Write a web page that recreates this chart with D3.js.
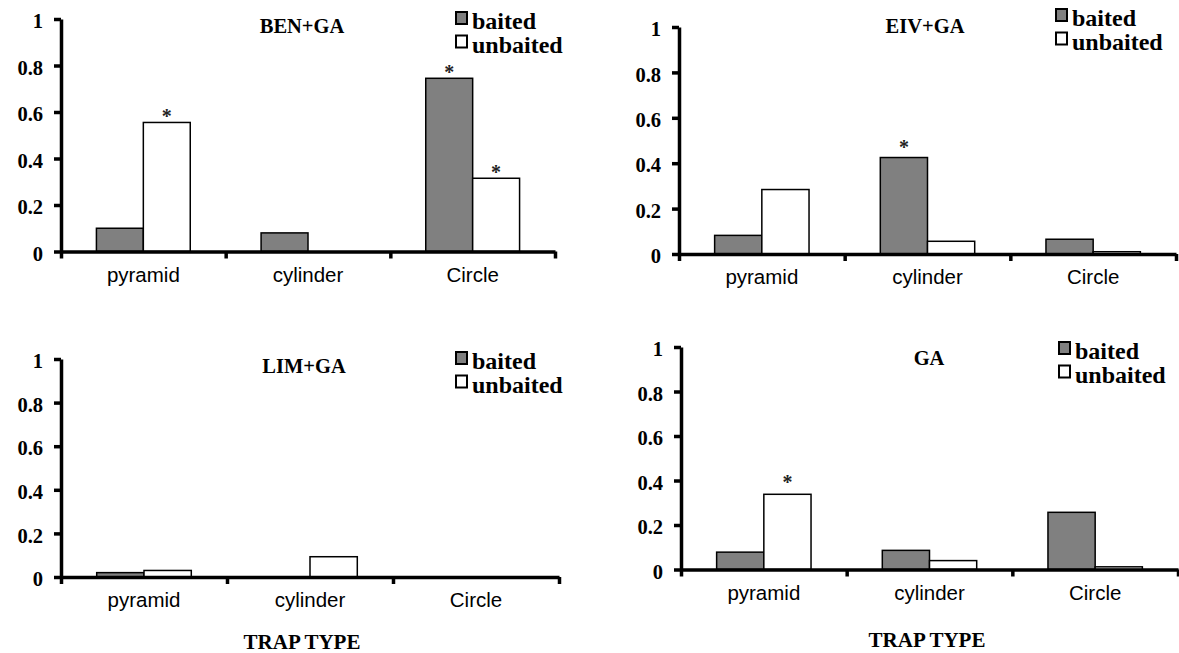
<!DOCTYPE html>
<html>
<head>
<meta charset="utf-8">
<script src="https://cdn.jsdelivr.net/npm/d3@7"></script>
<style>
  html, body { margin: 0; padding: 0; background: #fff; }
  svg { display: block; }
</style>
</head>
<body>
<svg id="chart" width="1179" height="653"></svg>
<script>
// ---------- data ----------
const categories = ["pyramid", "cylinder", "Circle"];
const seriesNames = ["baited", "unbaited"];
const yTicks = [0, 0.2, 0.4, 0.6, 0.8, 1];
const yTickLabels = ["0", "0.2", "0.4", "0.6", "0.8", "1"];
const xAxisTitle = "TRAP TYPE";

const benTitle = "BEN+GA";
const benBaited = [0.10, 0.08, 0.745];
const benUnbaited = [0.555, 0, 0.315];
const benStars = [[0, 1], [2, 0], [2, 1]]; // [category index, series index]

const eivTitle = "EIV+GA";
const eivBaited = [0.082, 0.425, 0.065];
const eivUnbaited = [0.284, 0.056, 0.01];
const eivStars = [[1, 0]];

const limTitle = "LIM+GA";
const limBaited = [0.02, 0, 0];
const limUnbaited = [0.03, 0.093, 0];
const limStars = [];

const gaTitle = "GA";
const gaBaited = [0.078, 0.086, 0.257];
const gaUnbaited = [0.338, 0.04, 0.012];
const gaStars = [[0, 1]];

// ---------- layout (positions / styles) ----------
const panels = [
  { title: benTitle, baited: benBaited, unbaited: benUnbaited, stars: benStars,
    x0: 61, x1: 555, y0: 251.5, y1: 19, tx: 302, ty: 33, lx: 456, ly: 12, starGap: 8, xlabel: null },
  { title: eivTitle, baited: eivBaited, unbaited: eivUnbaited, stars: eivStars,
    x0: 679, x1: 1176, y0: 254, y1: 27, tx: 925, ty: 33, lx: 1056, ly: 9, starGap: 13, xlabel: null },
  { title: limTitle, baited: limBaited, unbaited: limUnbaited, stars: limStars,
    x0: 61, x1: 559, y0: 577, y1: 359, tx: 304, ty: 373, lx: 456, ly: 352, starGap: 10, xlabel: [302, 649] },
  { title: gaTitle, baited: gaBaited, unbaited: gaUnbaited, stars: gaStars,
    x0: 681, x1: 1178, y0: 569.5, y1: 347, tx: 929, ty: 365, lx: 1059, ly: 342, starGap: 14, xlabel: [927, 647] }
];

const fills = { baited: "#808080", unbaited: "#ffffff" };
const serif = "'Liberation Serif', 'Times New Roman', Times, serif";
const sans = "'Liberation Sans', Arial, Helvetica, sans-serif";

const svg = d3.select("#chart");

panels.forEach(p => {
  const g = svg.append("g");

  const y = d3.scaleLinear().domain([0, 1]).range([p.y0, p.y1]);
  const x = d3.scaleBand().domain(categories).range([p.x0, p.x1]).paddingInner(0).paddingOuter(0);
  const xs = d3.scaleBand().domain(seriesNames).range([0, x.bandwidth()]).paddingInner(0).paddingOuter(0.755);
  const xEdges = d3.scaleLinear().domain([0, categories.length]).range([p.x0, p.x1]);

  const rows = categories.map((c, i) => ({ cat: c, baited: p.baited[i], unbaited: p.unbaited[i] }));

  // bars
  const grp = g.selectAll("g.cat").data(rows).join("g")
    .attr("transform", d => `translate(${x(d.cat)},0)`);
  grp.selectAll("rect").data(d => seriesNames.map(s => ({ s, v: d[s] }))).join("rect")
    .attr("x", d => xs(d.s))
    .attr("width", xs.bandwidth())
    .attr("y", d => y(d.v))
    .attr("height", d => y(0) - y(d.v))
    .attr("fill", d => fills[d.s])
    .attr("stroke", "#000")
    .attr("stroke-width", 1.5)
    .attr("visibility", d => d.v > 0 ? "visible" : "hidden");

  // asterisks
  g.selectAll("text.star").data(p.stars).join("text")
    .attr("class", "star")
    .attr("x", d => x(categories[d[0]]) + xs(seriesNames[d[1]]) + xs.bandwidth() / 2)
    .attr("y", d => y(d[1] === 0 ? p.baited[d[0]] : p.unbaited[d[0]]) - p.starGap + 9)
    .attr("text-anchor", "middle")
    .attr("font-family", serif)
    .attr("font-weight", "bold")
    .attr("font-size", 20)
    .attr("fill", "#222")
    .text("*");

  // y axis
  const yAxis = d3.axisLeft(y).tickValues(yTicks)
    .tickFormat((d, i) => yTickLabels[i]).tickSize(7).tickSizeOuter(0).tickPadding(11);
  const ya = g.append("g").attr("transform", `translate(${p.x0},0)`).call(yAxis);
  ya.select(".domain").attr("stroke-width", 3.5);
  ya.selectAll(".tick line").attr("stroke-width", 3.5);
  ya.selectAll(".tick text")
    .attr("font-family", serif).attr("font-weight", "bold").attr("font-size", 20.5)
    .attr("dy", "0.42em").attr("fill", "#000");

  // x axis: boundary ticks
  const xAxisEdges = d3.axisBottom(xEdges).tickValues(d3.range(categories.length + 1))
    .tickFormat("").tickSize(7).tickSizeOuter(0);
  const xa = g.append("g").attr("transform", `translate(0,${p.y0})`).call(xAxisEdges);
  xa.select(".domain").attr("stroke-width", 3.5);
  xa.selectAll(".tick line").attr("stroke-width", 3.5);

  // x axis: category labels
  const xAxisLabels = d3.axisBottom(x).tickSize(0).tickPadding(0);
  const xl = g.append("g").attr("transform", `translate(0,${p.y0})`).call(xAxisLabels);
  xl.select(".domain").remove();
  xl.selectAll(".tick text")
    .attr("y", 30).attr("dy", 0)
    .attr("font-family", sans).attr("font-size", 20.5).attr("fill", "#000");

  // title
  g.append("text").attr("x", p.tx).attr("y", p.ty)
    .attr("text-anchor", "middle")
    .attr("font-family", serif).attr("font-weight", "bold").attr("font-size", 20.5)
    .text(p.title);

  // legend
  const lg = g.append("g").attr("transform", `translate(${p.lx},${p.ly})`);
  const li = lg.selectAll("g").data(seriesNames).join("g")
    .attr("transform", (d, i) => `translate(0,${i * 23.5})`);
  li.append("rect").attr("x", 0).attr("y", 0).attr("width", 11).attr("height", 12)
    .attr("fill", d => fills[d]).attr("stroke", "#000").attr("stroke-width", 2);
  li.append("text").attr("x", 16).attr("y", 17)
    .attr("font-family", serif).attr("font-weight", "bold").attr("font-size", 24)
    .text(d => d);

  // x axis title
  if (p.xlabel) {
    g.append("text").attr("x", p.xlabel[0]).attr("y", p.xlabel[1])
      .attr("text-anchor", "middle")
      .attr("font-family", serif).attr("font-weight", "bold").attr("font-size", 21)
      .text(xAxisTitle);
  }
});
</script>
</body>
</html>
